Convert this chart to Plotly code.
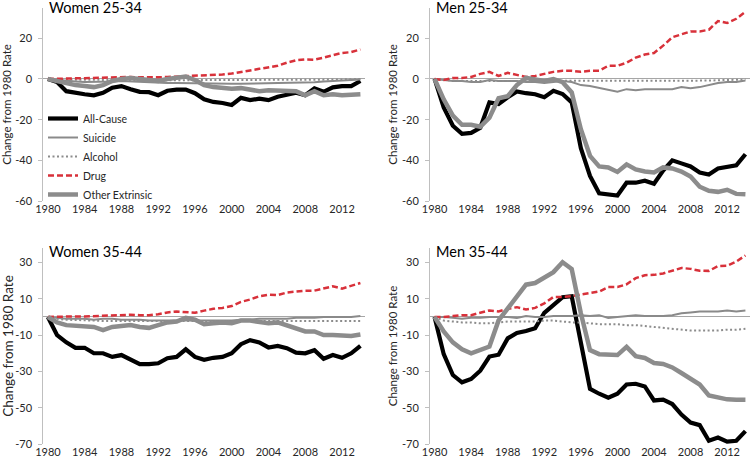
import plotly.graph_objects as go

years = list(range(1980, 2015))
tick_years = list(range(1980, 2013, 4))
tick_year_labels = [str(y) for y in tick_years]
series_names = ["All-Cause", "Suicide", "Alcohol", "Drug", "Other Extrinsic"]
panel_titles = ["Women 25-34", "Men 25-34", "Women 35-44", "Men 35-44"]
yticks_top = [-60, -40, -20, 0, 20]
ytick_labels_top = ["-60", "-40", "-20", "0", "20"]
yticks_bottom = [-70, -50, -30, -10, 10, 30]
ytick_labels_bottom = ["-70", "-50", "-30", "-10", "10", "30"]
y_title = "Change from 1980 Rate"

# ---- Women 25-34 ----
w25_all = [0, -1.5, -6, -7, -7.5, -8, -6.8, -4.3, -3.5, -5,
           -6.3, -6.5, -8, -5.8, -5.2, -5.2, -7, -10, -11.3, -11.8,
           -12.8, -9.3, -10.4, -9.7, -10.4, -8.7, -7.6, -6.8, -8, -4.6,
           -6.3, -4.1, -3.5, -3.5, -1]
w25_suicide = [0, -0.5, -1, -1.2, -1.5, -1.5, -1.3, -1.2, -1, -1.2,
               -1.5, -1.7, -2, -2, -2, -2, -2.2, -2.3, -2.2, -2.3,
               -2.3, -2.4, -2.3, -2.3, -2.2, -2.2, -2, -1.8, -1.8, -1.6,
               -1.2, -1, -0.8, -0.6, -0.3]
w25_alcohol = [0, -0.2, -0.3, -0.4, -0.4, -0.5, -0.5, -0.5, -0.5, -0.5,
               -0.6, -0.6, -0.6, -0.6, -0.6, -0.6, -0.6, -0.6, -0.6, -0.6,
               -0.6, -0.6, -0.6, -0.5, -0.5, -0.5, -0.5, -0.5, -0.5, -0.4,
               -0.4, -0.3, -0.2, -0.1, 0]
w25_drug = [0, 0, 0.2, 0.3, 0.4, 0.5, 0.7, 0.8, 1.0, 1.0,
            0.8, 0.7, 0.8, 1.0, 1.2, 1.3, 1.5, 1.6, 1.8, 2.2,
            2.7, 3.3, 4.2, 5.0, 5.6, 6.5, 8.0, 9.2, 9.6, 9.5,
            10.5, 11.5, 12.8, 13.2, 14.5]
w25_other = [0, -1, -2.5, -3, -3.5, -4, -3, -1, 0, 0.5,
             0, -0.5, -1, 0, 0.8, 1.2, -0.5, -3, -4, -4.5,
             -4.8, -4.5, -5.5, -6, -5.5, -5.5, -6, -6, -8, -6,
             -8, -7.5, -8, -8, -7.5]

# ---- Men 25-34 ----
m25_all = [0, -14, -23, -27, -26.5, -24, -11.5, -12.3, -9, -6.1,
           -7, -7.5, -9, -5.8, -7.4, -11.5, -34, -47.7, -56.2, -56.5,
           -57.3, -51, -51, -50, -51.5, -45, -40, -41.5, -43, -46,
           -47, -44, -43, -42.5, -37]
m25_suicide = [0, -0.5, -1, -1, -1.5, -1.5, -0.5, -1, -1, -1,
               -1.5, -1.5, -2, -1.5, -1, -1.5, -3, -3.5, -4.5, -5.5,
               -6.3, -5, -5.5, -5, -5, -5, -5, -4, -4.5, -4,
               -3, -2, -1.5, -1.5, -0.8]
m25_alcohol = [0, -0.5, -0.8, -1, -1, -1, -1, -1, -1, -1,
               -1, -1, -1, -1, -1, -1, -1, -1, -1, -1,
               -1, -1, -1, -1, -1, -1, -1, -1, -1, -1,
               -0.8, -0.6, -0.5, -0.5, -0.3]
m25_drug = [0, -0.5, 0.5, 0.5, 1, 2.5, 3.5, 1.5, 3, 2,
            1, 1.5, 2.5, 3.5, 4, 4, 3.5, 4, 4, 6.5,
            6.5, 8, 10.5, 12, 12.8, 16.4, 20.5, 22, 23.4, 23.4,
            24.2, 28.5, 27.5, 29.6, 33]
m25_other = [0, -10, -18, -22.5, -22.5, -23.5, -19, -9.5, -8.5, -3,
             0.5, -0.5, -1, 0, -1.6, -6.6, -24.7, -37.8, -43, -43.5,
             -45.7, -42, -44.5, -45.5, -46, -43.5, -44, -45.5, -48, -53,
             -55, -55.5, -54.5, -56.5, -56.7]

# ---- Women 35-44 ----
w35_all = [0, -10, -14, -17, -17, -20, -20, -22, -21, -23.5,
           -26, -26, -25.5, -22.7, -22, -17.8, -22, -23.6, -22.5, -22,
           -20, -15, -12.8, -14, -16.8, -16, -17.2, -19.7, -20, -18.3,
           -23, -21, -22.5, -20, -15.9]
w35_suicide = [0, -0.5, -1, -1, -1, -1.5, -1, -1, -1.5, -1.5,
               -1.5, -2, -2, -2, -2, -2, -2, -2, -2, -2,
               -2, -1.5, -1.5, -1, -1, -1, -1, -0.5, -0.5, -0.5,
               0, 0, 0, 0, 0.5]
w35_alcohol = [0, -1, -1.5, -1.8, -2, -2, -2.2, -2.2, -2.2, -2.2,
               -2.2, -2.2, -2.2, -2.2, -2.2, -2.2, -2.2, -2.2, -2.2, -2.2,
               -2.2, -2.2, -2.2, -2.2, -2.2, -2.2, -2.2, -2.2, -2.2, -2.2,
               -2.3, -2.3, -2.3, -2.3, -2.2]
w35_drug = [0, 0.2, 0.2, 0.3, 0.3, 0.5, 1, 1, 1.2, 1.2,
            1, 1, 1.5, 2.5, 3, 2.5, 2.3, 3.5, 4.5, 5,
            6, 8.3, 9.6, 11.4, 12.3, 12, 13.5, 14, 14.5, 14.5,
            15.5, 16.9, 15.6, 17, 18.7]
w35_other = [0, -3, -4.5, -5, -5.5, -5.5, -7.2, -5.5, -5, -4.5,
             -5.5, -6, -4.5, -3, -2.5, -0.5, -1.5, -4, -3.5, -3,
             -3.5, -2, -2, -2.5, -3.5, -3, -4.5, -6, -8, -8,
             -10, -10, -10.5, -10.5, -9.7]

# ---- Men 35-44 ----
m35_all = [0, -20.5, -32, -36, -34.2, -29.6, -21.8, -20.8, -11.8, -8.8,
           -7.7, -6.2, 2.3, 6.9, 10.9, 11.4, -14, -39.6, -42.3, -44.5,
           -42.3, -37.2, -36.8, -38.3, -46, -45.6, -48, -53.8, -58.2, -59.6,
           -68.2, -66.4, -68.7, -68.2, -62.9]
m35_suicide = [0, 0, -0.5, -1, -0.5, -0.5, 0, 0, 0, -0.5,
               0.5, 0, 0, 0.5, 0.5, 0.5, 1, 0.5, 1, -0.5,
               0, 0.5, 1, 0.5, 0.5, 0.5, 1, 2, 2.5, 3,
               3, 3, 3.5, 3, 3.5]
m35_alcohol = [0, -2, -2.5, -3, -3, -3.5, -3.5, -3, -2.5, -2.5,
               -2.5, -2.5, -2, -2, -2.5, -3, -3, -3.5, -4, -4,
               -4, -4.5, -4.5, -5, -5.5, -6, -6.5, -7, -7.5, -7.5,
               -7.5, -7.5, -7, -7, -6.5]
m35_drug = [0, 0, 0.5, 1, 1, 2.5, 3.6, 3, 4.5, 5.4,
            4.1, 5, 7.5, 11, 11, 11.5, 12.3, 13, 14, 16.5,
            16.5, 18, 21.4, 23, 23.2, 24, 25.6, 27, 26.5, 25.5,
            25.4, 28, 28.2, 30.5, 33.9]
m35_other = [0, -8, -14, -17.8, -20, -18.3, -16.3, -1.9, 5, 11.4,
             17.8, 18.7, 21.4, 24.7, 30.2, 26.4, 2, -18.3, -20.5, -21,
             -21, -16.5, -21.6, -22.6, -25.4, -25.9, -27.8, -30.9, -34, -37.2,
             -43.2, -44.1, -45.4, -45.6, -45.6]

panels = [
    [w25_all, w25_suicide, w25_alcohol, w25_drug, w25_other],
    [m25_all, m25_suicide, m25_alcohol, m25_drug, m25_other],
    [w35_all, w35_suicide, w35_alcohol, w35_drug, w35_other],
    [m35_all, m35_suicide, m35_alcohol, m35_drug, m35_other],
]

styles = [
    dict(color="#000000", width=4.2, dash="solid"),
    dict(color="#8a8a8a", width=2, dash="solid"),
    dict(color="#8c8c8c", width=2, dash="2px,2.5px"),
    dict(color="#d8313a", width=2.5, dash="6px,3px"),
    dict(color="#8c8c8c", width=4.5, dash="solid"),
]

W, H = 755, 466
FONT = "Lato, 'Open Sans', sans-serif"

fig = go.Figure()
for p, data in enumerate(panels):
    ax = "" if p == 0 else str(p + 1)
    for s, vals in enumerate(data):
        fig.add_trace(go.Scatter(
            x=years, y=vals, mode="lines", name=series_names[s],
            line=styles[s], showlegend=(p == 0),
            xaxis="x" + ax, yaxis="y" + ax, hoverinfo="skip",
        ))

# domains in pixels -> paper
xdom_left = [43.3 / W, 365.0 / W]
xdom_right = [430.0 / W, 750.0 / W]
ydom_top = [1 - 201.0 / H, 1 - 7.8 / H]
ydom_bottom = [1 - 444.0 / H, 1 - 248.0 / H]

def xaxis_cfg(dom, anchor):
    return dict(domain=dom, anchor=anchor, range=[1979.5, 2014.5],
                tickvals=tick_years, ticktext=tick_year_labels, ticks="",
                showline=False, showgrid=False, zeroline=False,
                tickfont=dict(family=FONT, size=11, color="#262626"),
                automargin=False, fixedrange=True)

def yaxis_cfg(dom, anchor, rng, tvals, ttext, tsize, standoff):
    return dict(domain=dom, anchor=anchor, range=rng, tickvals=tvals, ticktext=ttext,
                showline=True, linecolor="#bfbfbf", linewidth=1,
                ticks="outside", ticklen=4, tickcolor="#bfbfbf",
                showgrid=False, zeroline=True, zerolinecolor="#a6a6a6",
                zerolinewidth=1, ticklabelstandoff=4,
                tickfont=dict(family=FONT, size=11, color="#262626"),
                title=dict(text=y_title, standoff=standoff,
                           font=dict(family=FONT, size=tsize, color="#262626")),
                automargin=False, fixedrange=True)

fig.update_layout(
    width=W, height=H,
    margin=dict(l=0, r=0, t=0, b=0),
    paper_bgcolor="white", plot_bgcolor="white",
    font=dict(family=FONT, color="#262626"),
    xaxis=xaxis_cfg(xdom_left, "y"),
    xaxis2=xaxis_cfg(xdom_right, "y2"),
    xaxis3=xaxis_cfg(xdom_left, "y3"),
    xaxis4=xaxis_cfg(xdom_right, "y4"),
    yaxis=yaxis_cfg(ydom_top, "x", [-60, 35], yticks_top, ytick_labels_top, 11.5, 3),
    yaxis2=yaxis_cfg(ydom_top, "x2", [-60, 35], yticks_top, ytick_labels_top, 11.5, 1),
    yaxis3=yaxis_cfg(ydom_bottom, "x3", [-70, 38], yticks_bottom, ytick_labels_bottom, 13.5, 3),
    yaxis4=yaxis_cfg(ydom_bottom, "x4", [-70, 38], yticks_bottom, ytick_labels_bottom, 11.5, 1),
    showlegend=True,
    legend=dict(x=43.0 / W, xanchor="left", y=1 - 209.0 / H, yanchor="bottom",
                bgcolor="rgba(0,0,0,0)", font=dict(family=FONT, size=10.5, color="#262626"),
                tracegroupgap=0, itemwidth=30),
)

title_pos = [(47.0, 7.5), (434.0, 7.5), (47.0, 251.0), (434.0, 251.0)]
for t, (px, py) in zip(panel_titles, title_pos):
    fig.add_annotation(text=t, xref="paper", yref="paper", x=px / W, y=1 - py / H,
                       xanchor="left", yanchor="middle", showarrow=False,
                       font=dict(family=FONT, size=14.5, color="#000000"))

fig.write_html("out.html", config={"displayModeBar": False, "staticPlot": True},
               post_script="document.body.style.margin='0';document.body.style.padding='0';")
